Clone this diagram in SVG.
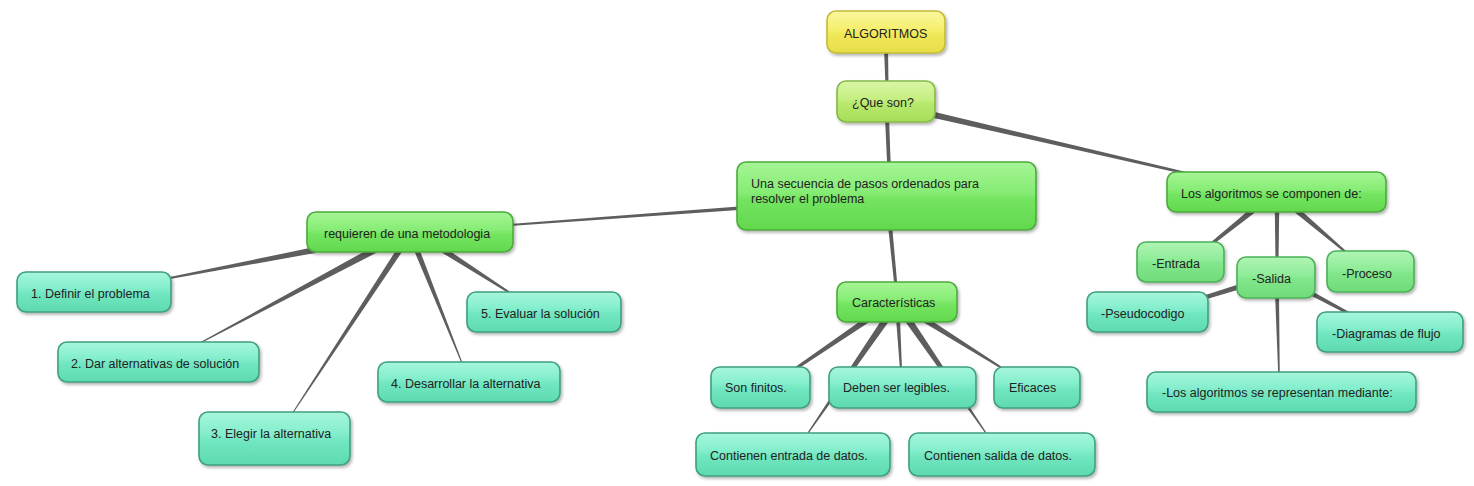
<svg xmlns="http://www.w3.org/2000/svg" width="1474" height="486" viewBox="0 0 1474 486">
<defs>
<style>
.n rect{stroke-width:1.6;filter:url(#sh)}
.teal rect{fill:url(#gTeal);stroke:#3f9f80}
.green rect{fill:url(#gGreen);stroke:#4caa3c}
.lgreen rect{fill:url(#gLGreen);stroke:#4cb05a}
.que rect{fill:url(#gQue);stroke:#86b848}
.yellow rect{fill:url(#gYellow);stroke:#c4bb36}
.n text{font-family:"Liberation Sans",Arial,sans-serif;font-size:12.5px;fill:#222}
#connectors polygon{fill:#5e5e5e}
</style>
<filter id="sh" x="-10%" y="-20%" width="125%" height="150%">
<feDropShadow dx="1.5" dy="2" stdDeviation="1.5" flood-color="#000" flood-opacity="0.3"/>
</filter>
<linearGradient id="gTeal" x1="0" y1="0" x2="0" y2="1">
<stop offset="0" stop-color="#a6f6dd"/><stop offset="0.4" stop-color="#84eecd"/><stop offset="0.55" stop-color="#70e6c0"/><stop offset="1" stop-color="#5edab0"/>
</linearGradient>
<linearGradient id="gGreen" x1="0" y1="0" x2="0" y2="1">
<stop offset="0" stop-color="#a6f596"/><stop offset="0.45" stop-color="#86ec74"/><stop offset="0.55" stop-color="#74e460"/><stop offset="1" stop-color="#62d84e"/>
</linearGradient>
<linearGradient id="gLGreen" x1="0" y1="0" x2="0" y2="1">
<stop offset="0" stop-color="#b0f4b4"/><stop offset="0.45" stop-color="#8eec98"/><stop offset="0.55" stop-color="#80e68a"/><stop offset="1" stop-color="#70dc7a"/>
</linearGradient>
<linearGradient id="gQue" x1="0" y1="0" x2="0" y2="1">
<stop offset="0" stop-color="#daf6a4"/><stop offset="0.45" stop-color="#c4ee80"/><stop offset="0.55" stop-color="#b8e96e"/><stop offset="1" stop-color="#a6de58"/>
</linearGradient>
<linearGradient id="gYellow" x1="0" y1="0" x2="0" y2="1">
<stop offset="0" stop-color="#fbf79e"/><stop offset="0.45" stop-color="#f5ee6c"/><stop offset="0.55" stop-color="#f0e85a"/><stop offset="1" stop-color="#e6de48"/>
</linearGradient>
</defs>
<rect width="1474" height="486" fill="#ffffff"/>
<g id="connectors">
<polygon points="884,48 885.5,86 888.5,86 888,48"/>
<polygon points="885,117 887.25,167 890.75,167 889,117"/>
<polygon points="929.3,116.9 1184.7,174.2 1185.3,171.8 930.7,111.1"/>
<polygon points="741.9,206.3 509.9,224 510.1,226 742.1,209.7"/>
<polygon points="314.4,247.1 169.8,277 170.2,279 315.6,252.9"/>
<polygon points="376.35,244.9 199.7,342.5 200.3,343.5 379.65,251.1"/>
<polygon points="398.5,246.35 291.6,413.7 292.4,414.3 403.5,249.65"/>
<polygon points="413.45,249 461.5,363.2 462.5,362.8 418.55,247"/>
<polygon points="438.4,250.5 509.5,293.8 510.5,292.2 441.6,245.5"/>
<polygon points="888,225.2 894.5,287.1 897.5,286.9 892,224.8"/>
<polygon points="868.3,315.5 794.2,367.8 795.8,370.2 871.7,320.5"/>
<polygon points="884.1,316 805.5,435.7 806.5,436.3 889.9,320"/>
<polygon points="896,318.1 900,370.1 902,369.9 900,317.9"/>
<polygon points="904.1,320 987.5,436.3 988.5,435.7 909.9,316"/>
<polygon points="920.4,320.5 1004.5,370.8 1005.5,369.2 923.6,315.5"/>
<polygon points="1254.1,205.7 1209.1,243.8 1210.9,246.2 1257.9,210.3"/>
<polygon points="1274.75,208 1275.5,260 1278.5,260 1279.25,208"/>
<polygon points="1292.1,210.3 1347.4,254.8 1348.6,253.2 1295.9,205.7"/>
<polygon points="1244.3,282.6 1202.4,296.1 1203.6,299.9 1245.7,287.4"/>
<polygon points="1303.9,292 1349.3,315.3 1350.7,312.7 1306.1,288"/>
<polygon points="1275,293 1278.25,375 1279.75,375 1279,293"/>
</g>
<g id="n-algoritmos" class="n yellow"><rect x="827" y="11" width="118" height="42" rx="9"/><text x="844" y="37.5">ALGORITMOS</text></g>
<g id="n-queson" class="n que"><rect x="837" y="81" width="98" height="41" rx="9"/><text x="852" y="106.5">¿Que son?</text></g>
<g id="n-secuencia" class="n green"><rect x="737" y="162" width="299" height="68" rx="9"/><text x="751" y="187.5">Una secuencia de pasos ordenados para</text><text x="751" y="202.5">resolver el problema</text></g>
<g id="n-requieren" class="n green"><rect x="307" y="212" width="206" height="40" rx="9"/><text x="324" y="237.5">requieren de una metodologia</text></g>
<g id="n-paso1" class="n teal"><rect x="17" y="272" width="154" height="40" rx="9"/><text x="31" y="297.5">1. Definir el problema</text></g>
<g id="n-paso2" class="n teal"><rect x="58" y="342" width="201" height="40" rx="9"/><text x="71" y="367.5">2. Dar alternativas de solución</text></g>
<g id="n-paso3" class="n teal"><rect x="199" y="412" width="151" height="53" rx="9"/><text x="211" y="437.5">3. Elegir la alternativa</text></g>
<g id="n-paso4" class="n teal"><rect x="378" y="362" width="182" height="40" rx="9"/><text x="391" y="387.5">4. Desarrollar la alternativa</text></g>
<g id="n-paso5" class="n teal"><rect x="467" y="292" width="154" height="40" rx="9"/><text x="481" y="317.5">5. Evaluar la solución</text></g>
<g id="n-caracteristicas" class="n green"><rect x="837" y="282" width="120" height="40" rx="9"/><text x="852" y="306.5">Características</text></g>
<g id="n-finitos" class="n teal"><rect x="711" y="367" width="99" height="41" rx="9"/><text x="725" y="391.5">Son finitos.</text></g>
<g id="n-legibles" class="n teal"><rect x="829" y="367" width="147" height="41" rx="9"/><text x="843" y="391.5">Deben ser legibles.</text></g>
<g id="n-eficaces" class="n teal"><rect x="994" y="367" width="86" height="41" rx="9"/><text x="1009" y="391.5">Eficaces</text></g>
<g id="n-entradadatos" class="n teal"><rect x="696" y="433" width="194" height="43" rx="9"/><text x="710" y="459.5">Contienen entrada de datos.</text></g>
<g id="n-salidadatos" class="n teal"><rect x="909" y="433" width="186" height="43" rx="9"/><text x="924" y="459.5">Contienen salida de datos.</text></g>
<g id="n-componen" class="n green"><rect x="1167" y="172" width="219" height="40" rx="9"/><text x="1181" y="197.5">Los algoritmos se componen de:</text></g>
<g id="n-entrada" class="n lgreen"><rect x="1137" y="242" width="87" height="40" rx="9"/><text x="1152" y="267.5">-Entrada</text></g>
<g id="n-salida" class="n lgreen"><rect x="1237" y="257" width="78" height="41" rx="9"/><text x="1252" y="282.5">-Salida</text></g>
<g id="n-proceso" class="n lgreen"><rect x="1327" y="251" width="87" height="41" rx="9"/><text x="1342" y="277.5">-Proceso</text></g>
<g id="n-pseudocodigo" class="n teal"><rect x="1087" y="292" width="121" height="40" rx="9"/><text x="1101" y="317.5">-Pseudocodigo</text></g>
<g id="n-diagramas" class="n teal"><rect x="1317" y="312" width="146" height="40" rx="9"/><text x="1332" y="337.5">-Diagramas de flujo</text></g>
<g id="n-representan" class="n teal"><rect x="1147" y="372" width="269" height="40" rx="9"/><text x="1162" y="396.5">-Los algoritmos se representan mediante:</text></g>
</svg>
